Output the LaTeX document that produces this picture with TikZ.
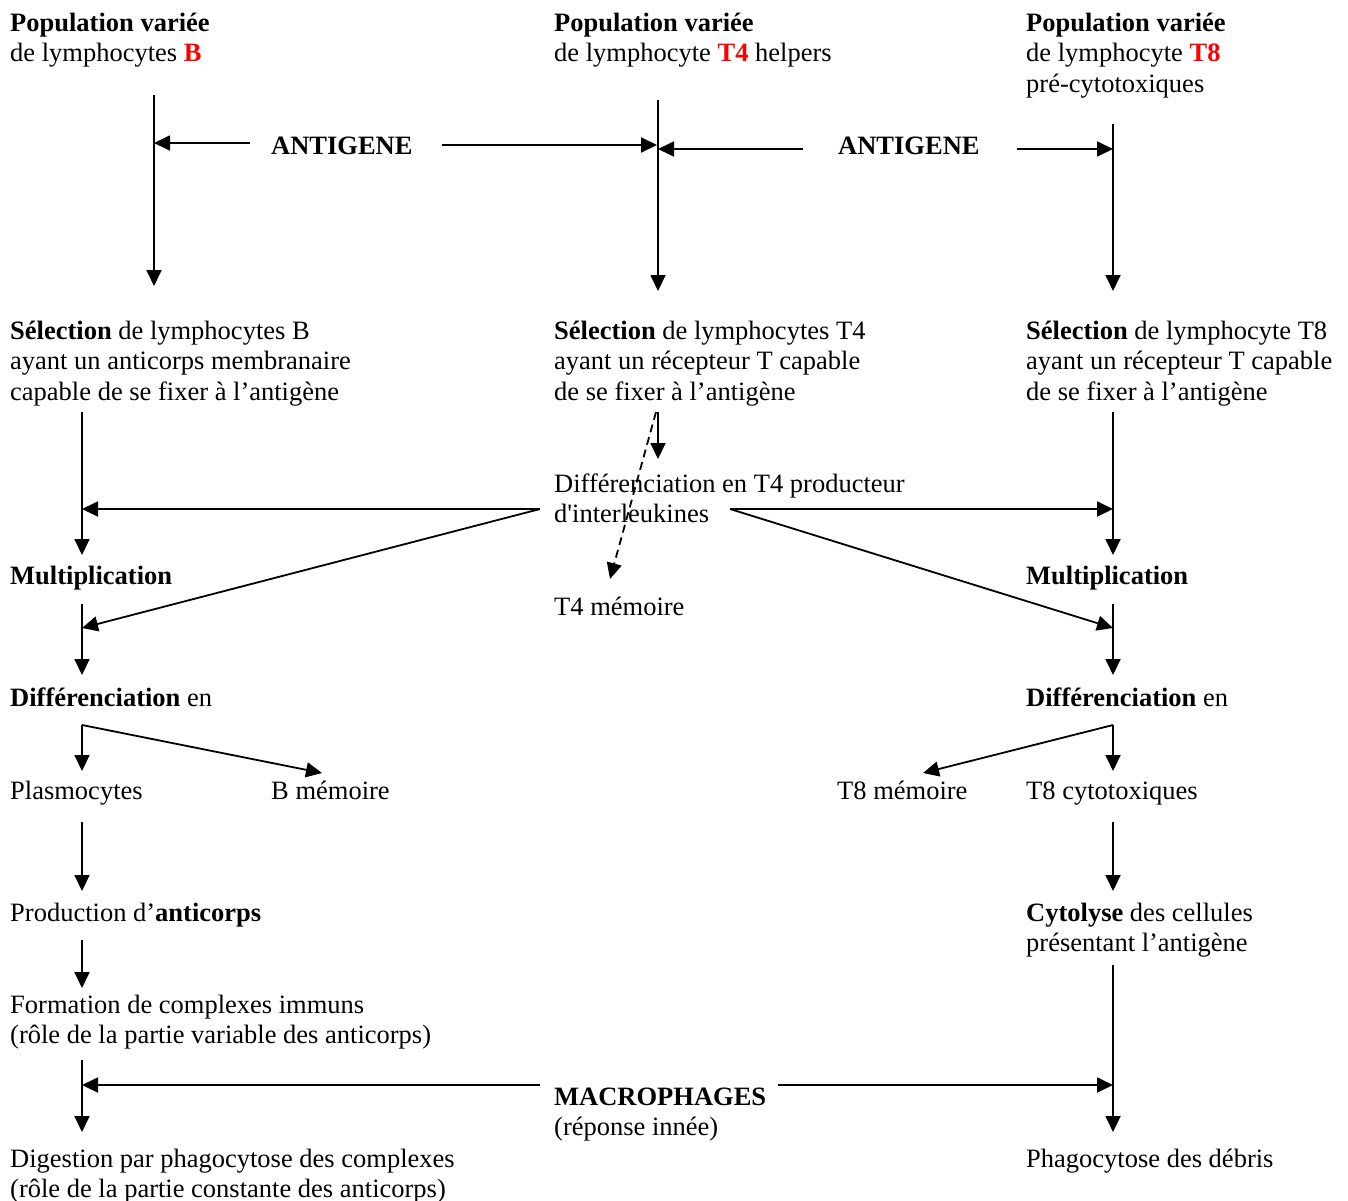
\documentclass[tikz,border=0pt]{standalone}
\usepackage{fontspec}
\setmainfont{Liberation Serif}[Ligatures=TeXOff]
\usetikzlibrary{arrows.meta}
\tikzset{
  txt/.style={anchor=north west,inner sep=0pt,align=left,font=\fontsize{26.5}{30.8}\selectfont},
  arr/.style={line width=1.8pt,-{Triangle[length=16pt,width=15pt]}},
  darr/.style={line width=1.8pt,dash pattern=on 8pt off 5pt,-{Triangle[length=16pt,width=15pt]}}
}
\newcommand{\rd}[1]{\textcolor{red}{\textbf{#1}}}
\begin{document}
\begin{tikzpicture}[x=1pt,y=-1pt]
\useasboundingbox (0,0) rectangle (1348,1200);
% texts (y = baseline - 21.56)
\node[txt] (popB) at (10,9.4) {\strut\textbf{Population variée}\\de lymphocytes \rd{B}};
\node[txt] (popT4) at (554,9.4) {\strut\textbf{Population variée}\\de lymphocyte \rd{T4} helpers};
\node[txt] (popT8) at (1026,9.4) {\strut\textbf{Population variée}\\de lymphocyte \rd{T8}\\pré-cytotoxiques};
\node[txt] (ag1) at (271,132.4) {\strut\textbf{ANTIGENE}};
\node[txt] (ag2) at (838,132.4) {\strut\textbf{ANTIGENE}};
\node[txt] (selB) at (10,317.4) {\strut\textbf{Sélection} de lymphocytes B\\ayant un anticorps membranaire\\capable de se fixer à l’antigène};
\node[txt] (selT4) at (554,317.4) {\strut\textbf{Sélection} de lymphocytes T4\\ayant un récepteur T capable\\de se fixer à l’antigène};
\node[txt] (selT8) at (1026,317.4) {\strut\textbf{Sélection} de lymphocyte T8\\ayant un récepteur T capable\\de se fixer à l’antigène};
\node[txt] (difT4) at (554,470.4) {\strut Différenciation en T4 producteur\\d'interleukines};
\node[txt] (multB) at (10,562.4) {\strut\textbf{Multiplication}};
\node[txt] (multT8) at (1026,562.4) {\strut\textbf{Multiplication}};
\node[txt] (memT4) at (554,593.4) {\strut T4 mémoire};
\node[txt] (difB) at (10,684.4) {\strut\textbf{Différenciation} en};
\node[txt] (difT8) at (1026,684.4) {\strut\textbf{Différenciation} en};
\node[txt] (plasmo) at (10,777.4) {\strut Plasmocytes};
\node[txt] (memB) at (271,777.4) {\strut B mémoire};
\node[txt] (memT8) at (837,777.4) {\strut T8 mémoire};
\node[txt] (cytoT8) at (1026,777.4) {\strut T8 cytotoxiques};
\node[txt] (prod) at (10,899.4) {\strut Production d’\textbf{anticorps}};
\node[txt] (cytol) at (1026,899.4) {\strut\textbf{Cytolyse} des cellules\\présentant l’antigène};
\node[txt] (form) at (10,991.4) {\strut Formation de complexes immuns\\(rôle de la partie variable des anticorps)};
\node[txt] (macro) at (554,1083.4) {\strut\textbf{MACROPHAGES}\\(réponse innée)};
\node[txt] (dig) at (10,1145.4) {\strut Digestion par phagocytose des complexes\\(rôle de la partie constante des anticorps)};
\node[txt] (phago) at (1026,1145.4) {\strut Phagocytose des débris};
% named connector ends
\coordinate (bA) at (154,95);   \coordinate (bB) at (154,286);
\coordinate (tA) at (658,100);  \coordinate (tB) at (658,291);
\coordinate (sA) at (1113,124); \coordinate (sB) at (1113,291);
\coordinate (ag1l) at (250,143); \coordinate (ag1lt) at (154,143);
\coordinate (ag1r) at (442,145); \coordinate (ag1rt) at (657,145);
\coordinate (ag2l) at (803,149); \coordinate (ag2lt) at (658,149);
\coordinate (ag2r) at (1017,149); \coordinate (ag2rt) at (1113,149);
\coordinate (selBo) at (82,412);  \coordinate (multBi) at (82,555);
\coordinate (selT4o) at (658,412); \coordinate (difT4i) at (658,459);
\coordinate (selT4d) at (656,412); \coordinate (memT4i) at (610,579);
\coordinate (selT8o) at (1113,412); \coordinate (multT8i) at (1113,555);
\coordinate (dl) at (540,509); \coordinate (dr) at (730,509);
\coordinate (bL1) at (82,509); \coordinate (bL2) at (82,628);
\coordinate (sR1) at (1113,509); \coordinate (sR2) at (1113,628);
\coordinate (multBo) at (82,604); \coordinate (difBi) at (82,675);
\coordinate (multT8o) at (1113,604); \coordinate (difT8i) at (1113,675);
\coordinate (difBo) at (82,725); \coordinate (plasmoi) at (82,771); \coordinate (memBi) at (322,773);
\coordinate (difT8o) at (1113,725); \coordinate (cytoT8i) at (1113,771); \coordinate (memT8i) at (923,773);
\coordinate (plasmoo) at (82,822); \coordinate (prodi) at (82,891);
\coordinate (cytoT8o) at (1113,822); \coordinate (cytoli) at (1113,891);
\coordinate (prodo) at (82,940); \coordinate (formi) at (82,988);
\coordinate (formo) at (82,1060); \coordinate (digi) at (82,1132);
\coordinate (cytolo) at (1113,965); \coordinate (phagoi) at (1113,1132);
\coordinate (mL) at (540,1085); \coordinate (mLt) at (82,1085);
\coordinate (mR) at (778,1085); \coordinate (mRt) at (1113,1085);
% connectors
\draw[arr] (bA) -- (bB);
\draw[arr] (tA) -- (tB);
\draw[arr] (sA) -- (sB);
\draw[arr] (ag1l) -- (ag1lt);
\draw[arr] (ag1r) -- (ag1rt);
\draw[arr] (ag2l) -- (ag2lt);
\draw[arr] (ag2r) -- (ag2rt);
\draw[arr] (selBo) -- (multBi);
\draw[arr] (selT4o) -- (difT4i);
\draw[darr] (selT4d) -- (memT4i);
\draw[arr] (selT8o) -- (multT8i);
\draw[arr] (dl) -- (bL1);
\draw[arr] (dl) -- (bL2);
\draw[arr] (dr) -- (sR1);
\draw[arr] (dr) -- (sR2);
\draw[arr] (multBo) -- (difBi);
\draw[arr] (multT8o) -- (difT8i);
\draw[arr] (difBo) -- (plasmoi);
\draw[arr] (difBo) -- (memBi);
\draw[arr] (difT8o) -- (cytoT8i);
\draw[arr] (difT8o) -- (memT8i);
\draw[arr] (plasmoo) -- (prodi);
\draw[arr] (cytoT8o) -- (cytoli);
\draw[arr] (prodo) -- (formi);
\draw[arr] (formo) -- (digi);
\draw[arr] (cytolo) -- (phagoi);
\draw[arr] (mL) -- (mLt);
\draw[arr] (mR) -- (mRt);
\end{tikzpicture}
\end{document}
